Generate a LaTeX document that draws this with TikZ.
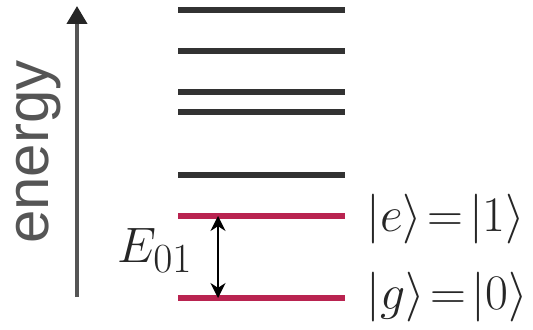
\documentclass[tikz,border=0pt]{standalone}
\usepackage{fontspec}
\newfontfamily\axisfont{Liberation Sans}
\usetikzlibrary{arrows.meta,positioning}
\definecolor{levelred}{RGB}{185,35,80}
\definecolor{levelgray}{RGB}{50,50,50}
\definecolor{axisgray}{RGB}{85,85,85}

\begin{document}
\begin{tikzpicture}[
    x=0.5pt, y=-0.5pt,
    level/.style={line width=2.6pt, draw=#1},
    level/.default=levelgray,
    axis/.style={-{Triangle[length=9pt,width=10pt,color=black!85]}, line width=2pt, draw=axisgray},
    gap/.style={{Stealth[length=7.5pt,width=7.5pt]}-{Stealth[length=7.5pt,width=7.5pt]}, line width=1pt, draw=black},
    ket/.style={anchor=base west, inner sep=0pt, text=black!85, font=\fontsize{26}{30}\selectfont}
]
    \useasboundingbox (0,0) rectangle (533,330);

    % Energy axis
    \coordinate (axbot) at (77,297);
    \coordinate (axtop) at (77,6);
    \draw[axis] (axbot) -- (axtop);
    \node[rotate=90, text=axisgray, inner sep=0pt, font=\axisfont\fontsize{30}{36}\selectfont] (energy) at (39,152) {energy};

    % Higher levels
    \foreach \y/\n in {10/lsix, 51/lfive, 92/lfour, 112/lthree, 175/ltwo}
        \draw[level] (178,\y) coordinate (\n a) -- (345,\y) coordinate (\n b);

    % Qubit levels
    \draw[level=levelred] (178,216) coordinate (ea) -- (345,216) coordinate (eb);
    \draw[level=levelred] (178,298) coordinate (ga) -- (345,298) coordinate (gb);

    % Transition energy
    \coordinate (etip) at (218,216);
    \coordinate (gtip) at (218,298);
    \draw[gap] (etip) -- (gtip);
    \node[anchor=base west, inner sep=0pt, text=black!85, font=\fontsize{28}{32}\selectfont] (elabel) at (117,263) {$E_{01}$};

    % State labels
    \node[ket] (kete) at (366,232) {$|e\rangle\mkern2mu{=}\mkern2mu|1\rangle$};
    \node[ket] (ketg) at (366,309) {$|g\rangle\mkern2mu{=}\mkern2mu|0\rangle$};

\end{tikzpicture}
\end{document}
